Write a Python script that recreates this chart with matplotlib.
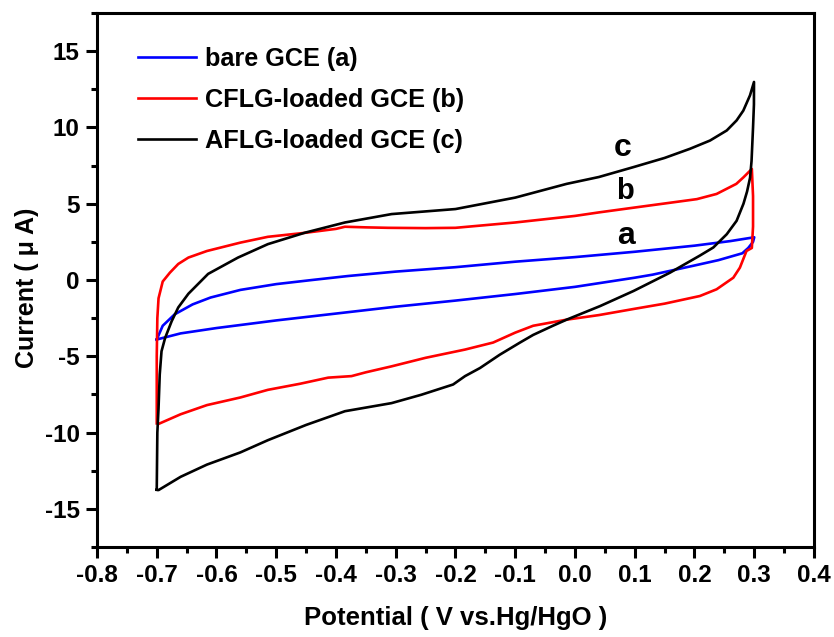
import numpy as np
import matplotlib
matplotlib.use('Agg')
import matplotlib.pyplot as plt
from matplotlib.ticker import MultipleLocator

plt.rcParams['font.family'] = ['Liberation Sans', 'DejaVu Sans']
plt.rcParams['font.weight'] = 'bold'

# bare GCE (a): forward scan then reverse scan
a_v = [-0.70, -0.69, -0.67, -0.64, -0.61, -0.56, -0.50, -0.44, -0.38, -0.30, -0.20, -0.10, 0.00, 0.10,
       0.20, 0.26, 0.30, 0.298, 0.29, 0.28, 0.24, 0.20, 0.13, 0.10, 0.00, -0.10, -0.20, -0.30, -0.40,
       -0.50, -0.60, -0.66, -0.69, -0.70]
a_i = [-3.9, -3.0, -2.25, -1.6, -1.15, -0.65, -0.27, 0.0, 0.26, 0.55, 0.84, 1.2, 1.5, 1.85,
       2.25, 2.55, 2.8, 2.5, 2.1, 1.75, 1.3, 0.95, 0.35, 0.15, -0.45, -0.92, -1.35, -1.75, -2.2,
       -2.65, -3.15, -3.5, -3.8, -3.9]

# CFLG-loaded GCE (b)
b_v = [-0.70, -0.70, -0.699, -0.697, -0.69, -0.678, -0.664, -0.647, -0.616, -0.56, -0.514, -0.45, -0.40,
       -0.385, -0.35, -0.313, -0.25, -0.20, -0.10, 0.00, 0.04, 0.10, 0.204, 0.237, 0.27, 0.282, 0.296,
       0.298, 0.298, 0.296, 0.287, 0.276, 0.265, 0.237, 0.209, 0.15, 0.098, 0.04, -0.014, -0.07, -0.10,
       -0.137, -0.184, -0.25, -0.307, -0.35, -0.374, -0.413, -0.46, -0.514, -0.56, -0.616, -0.66, -0.695]
b_i = [-9.4, -5.0, -2.5, -1.2, -0.1, 0.48, 1.05, 1.47, 1.9, 2.45, 2.83, 3.1, 3.35,
       3.49, 3.45, 3.42, 3.4, 3.42, 3.77, 4.2, 4.43, 4.75, 5.3, 5.64, 6.3, 6.73, 7.28,
       5.5, 3.5, 2.1, 1.9, 0.81, 0.15, -0.61, -1.05, -1.55, -1.9, -2.3, -2.6, -3.0, -3.45,
       -4.1, -4.56, -5.1, -5.66, -6.05, -6.3, -6.4, -6.8, -7.2, -7.7, -8.2, -8.8, -9.4]

# AFLG-loaded GCE (c)
c_v = [-0.70, -0.699, -0.697, -0.695, -0.692, -0.686, -0.675, -0.664, -0.647, -0.614, -0.564, -0.514,
       -0.452, -0.385, -0.307, -0.20, -0.10, -0.014, 0.04, 0.098, 0.15, 0.1925, 0.226, 0.254, 0.2705,
       0.2817, 0.2929, 0.2996, 0.2995, 0.298, 0.2955, 0.293, 0.288, 0.282, 0.2705, 0.254, 0.2315,
       0.209, 0.159, 0.098, 0.042, -0.014, -0.037, -0.07, -0.092, -0.126, -0.159, -0.184, -0.204,
       -0.257, -0.307, -0.385, -0.45, -0.514, -0.56, -0.616, -0.66, -0.697, -0.70]
c_i = [-13.75, -10.0, -8.4, -6.2, -4.67, -3.8, -2.7, -1.8, -0.9, 0.4, 1.47, 2.35,
       3.1, 3.77, 4.32, 4.65, 5.4, 6.3, 6.75, 7.4, 8.0, 8.6, 9.14, 9.8, 10.46,
       11.1, 12.1, 12.98, 11.5, 10.0, 7.8, 6.7, 5.8, 5.0, 3.88, 3.0, 2.13,
       1.6, 0.48, -0.72, -1.71, -2.6, -3.0, -3.6, -4.1, -4.9, -5.77, -6.3, -6.85,
       -7.52, -8.07, -8.6, -9.5, -10.5, -11.3, -12.1, -12.9, -13.77, -13.75]

x_ticks = [-0.8, -0.7, -0.6, -0.5, -0.4, -0.3, -0.2, -0.1, 0.0, 0.1, 0.2, 0.3, 0.4]
x_labels = ['-0.8', '-0.7', '-0.6', '-0.5', '-0.4', '-0.3', '-0.2', '-0.1',
            '0.0', '0.1', '0.2', '0.3', '0.4']
y_ticks = [-15, -10, -5, 0, 5, 10, 15]
y_labels = ['-15', '-10', '-5', '0', '5', '10', '15']

fig = plt.figure(figsize=(8.34, 6.37), dpi=100)
ax = fig.add_axes([0.1163, 0.1413, 0.8597, 0.8383])

ax.plot(a_v, a_i, color='#0000ff', lw=1.9, label='bare GCE (a)')
ax.plot(b_v, b_i, color='#ff0000', lw=1.9, label='CFLG-loaded GCE (b)')
ax.plot(c_v, c_i, color='#000000', lw=1.9, label='AFLG-loaded GCE (c)')

ax.text(0.080, 8.11, 'c', fontsize=23, fontweight='bold', ha='center', va='baseline')
ax.text(0.083, 5.31, 'b', fontsize=21, fontweight='bold', ha='center', va='baseline')
ax.text(0.085, 2.35, 'a', fontsize=23, fontweight='bold', ha='center', va='baseline')

ax.set_xlim(-0.8, 0.4)
ax.set_ylim(-17.5, 17.5)
ax.set_xticks(x_ticks)
ax.set_xticklabels(x_labels)
ax.set_yticks(y_ticks)
ax.set_yticklabels(y_labels)
ax.xaxis.set_minor_locator(MultipleLocator(0.05))
ax.yaxis.set_minor_locator(MultipleLocator(2.5))

for s in ax.spines.values():
    s.set_linewidth(2.2)
ax.tick_params(which='major', direction='out', length=8, width=2.2, labelsize=17.5, pad=4.5)
ax.tick_params(which='minor', direction='out', length=4.5, width=2.2)
for lab in ax.get_xticklabels() + ax.get_yticklabels():
    lab.set_fontweight('bold')

ax.set_xlabel('Potential ( V vs.Hg/HgO )', fontsize=18.5, fontweight='bold')
ax.set_ylabel('Current ( μ A)', fontsize=18, fontweight='bold')
ax.xaxis.set_label_coords(0.5, -0.133)
ax.xaxis.label.set_va('center')
ax.yaxis.set_label_coords(-0.0976, 0.485)
ax.yaxis.label.set_va('center')

leg = ax.legend(loc='upper left', bbox_to_anchor=(0.0432, 0.955), frameon=False, fontsize=18.2,
                handlelength=2.3, labelspacing=0.66, borderaxespad=0.0, handletextpad=0.36)
for t in leg.get_texts():
    t.set_fontweight('bold')

fig.savefig('out.png', dpi=100)
